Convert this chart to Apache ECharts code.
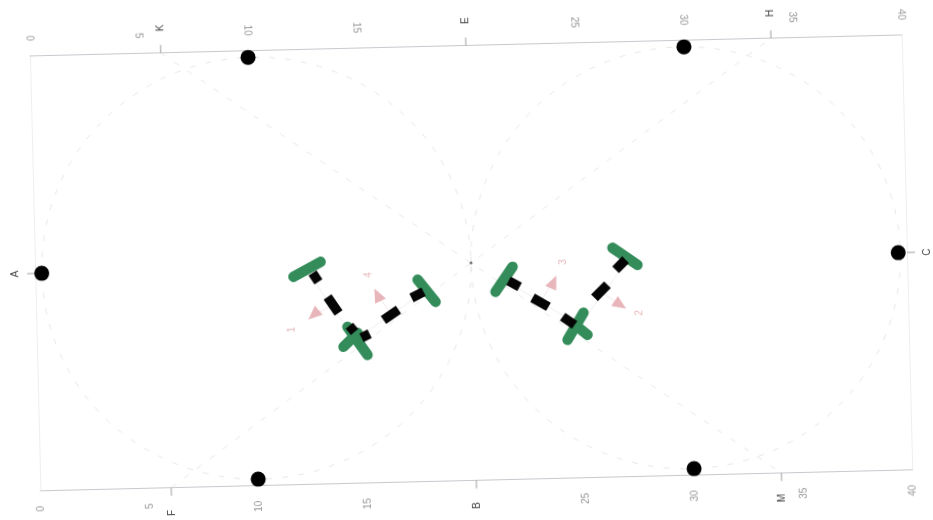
<!DOCTYPE html>
<html>
<head>
<meta charset="utf-8">
<style>
html,body{margin:0;padding:0;background:#fff;width:933px;height:520px;overflow:hidden}
#c{width:933px;height:520px;transform:rotate(-1.38deg);transform-origin:466.5px 260px;filter:blur(0.5px)}
</style>
<script src="https://cdn.jsdelivr.net/npm/echarts@6/dist/echarts.min.js"></script>
</head>
<body>
<div id="c"></div>
<script>
const xTicks = [0, 5, 10, 15, 20, 25, 30, 35, 40];
const hiddenTicks = [20];
const circles = [[10.15, 10], [29.85, 10]];
const circleRadius = [9.85, 9.7];
const crossLines = [[[6, 20], [20, 10], [34, 0]], [[6, 0], [20, 10], [34, 20]]];
const centerDot = [[20, 10]];
const dots = [[0.3, 10], [10, 19.7], [30, 19.7], [39.6, 10], [30, 0.3], [10, 0.3]];
const markers = [
  ['A', 0, 10, 'left'], ['C', 40, 10, 'right'], ['E', 20, 20, 'top'], ['B', 20, 0, 'bottom'],
  ['K', 6, 20, 'top'], ['H', 34, 20, 'top'], ['F', 6, 0, 'bottom'], ['M', 34, 0, 'bottom']
];
const armLines = [
  [[12.4, 9.9], [14.62, 6.6], [17.9, 8.8]],
  [[21.5, 9.2], [24.9, 7.0], [27.3, 10.1]]
];
const arrowLines = [
  [[13.6, 8.2], [12.72, 7.79]], [[16.3, 7.7], [15.67, 8.64]],
  [[23.1, 8.1], [23.76, 9.04]], [[25.9, 8.55], [26.8, 7.91]]
];
const greenBars = [
  [[14.26, 7.2], [15.15, 5.89]], [[14.06, 6.29], [14.72, 6.91]],
  [[11.84, 9.56], [13.1, 10.22]], [[17.53, 9.29], [18.33, 8.25]],
  [[25.1, 7.59], [24.34, 6.36]], [[24.81, 6.95], [25.26, 6.57]],
  [[21.09, 8.65], [21.9, 9.78]], [[26.5, 10.54], [27.63, 9.73]]
];
const blackBars = [
  [[12.72, 9.72], [12.98, 9.3]], [[13.38, 8.6], [13.87, 7.85]], [[14.35, 7.25], [14.58, 6.96]],
  [[14.89, 6.68], [15.27, 6.86]], [[15.92, 7.48], [16.62, 7.93]], [[17.23, 8.46], [17.79, 8.73]],
  [[21.7, 9.14], [22.2, 8.85]], [[22.78, 8.33], [23.5, 7.9]], [[24.14, 7.43], [24.68, 7.04]],
  [[25.62, 8.26], [26.23, 8.85]], [[26.62, 9.53], [27.09, 9.98]]
];
const arrowHeads = [[12.72, 7.79, 130], [15.67, 8.64, 25], [23.76, 9.04, -25], [26.8, 7.91, -125]];
const pinkLabels = [['1', 11.69, 7.13], ['4', 15.28, 9.57], ['3', 24.24, 9.95], ['2', 27.67, 7.52]];

const GREY = '#989898', FAINT = '#e4e4e4', DARK = '#444', PINK = '#e8b6ba';
const outward = { left: [-1, 0], right: [1, 0], top: [0, -1], bottom: [0, 1] };

function lineSeries(points, width, color, extra) {
  return Object.assign({
    type: 'line', data: points, showSymbol: false, symbol: 'none', silent: true, clip: false,
    lineStyle: { width: width, color: color }, animation: false
  }, extra || {});
}

const series = [];
series.push({
  type: 'custom', data: circles, silent: true, animation: false, clip: false, z: 1,
  renderItem: function (p, api) {
    const c = api.coord([api.value(0), api.value(1)]);
    const s = api.size(circleRadius);
    return { type: 'ellipse', shape: { cx: c[0], cy: c[1], rx: s[0], ry: s[1] },
      style: { fill: 'none', stroke: FAINT, lineWidth: 0.9, lineDash: [6, 10] } };
  }
});
crossLines.forEach(l => series.push(lineSeries(l, 0.9, FAINT, { z: 1, lineStyle: { width: 0.9, color: FAINT, type: [6, 10] } })));
armLines.forEach(l => series.push(lineSeries(l, 0.7, '#e6e6e6', { z: 2 })));
arrowLines.forEach(l => series.push(lineSeries(l, 0.7, '#ecdadb', { z: 2 })));
greenBars.forEach(b => series.push(lineSeries(b, 10.5, '#338c5a', { z: 4, lineStyle: { width: 10.5, color: '#338c5a', cap: 'round' } })));
blackBars.forEach(b => series.push(lineSeries(b, 9.5, '#050505', { z: 5 })));
series.push({
  type: 'scatter', data: arrowHeads.map(a => ({ value: [a[0], a[1]], symbolRotate: a[2] })),
  symbol: 'triangle', symbolSize: [12, 14], itemStyle: { color: PINK, opacity: 1 }, silent: true, animation: false, z: 3
});
series.push({
  type: 'scatter', data: dots, symbol: 'circle', symbolSize: 15,
  itemStyle: { color: '#000', opacity: 1 }, silent: true, animation: false, clip: false, z: 6
});
series.push({
  type: 'scatter', data: centerDot, symbol: 'circle', symbolSize: 3,
  itemStyle: { color: '#777', opacity: 1 }, silent: true, animation: false, z: 3
});
series.push({
  type: 'custom', data: pinkLabels.map(l => [l[1], l[2]]), silent: true, animation: false, z: 3,
  encode: { x: 0, y: 1 },
  renderItem: function (p, api) {
    const c = api.coord([api.value(0), api.value(1)]);
    return { type: 'text', x: c[0], y: c[1], rotation: Math.PI / 2,
      style: { text: pinkLabels[p.dataIndex][0], fill: PINK, fontSize: 10, fontFamily: 'Liberation Sans', align: 'center', verticalAlign: 'middle' } };
  }
});
series.push({
  type: 'custom', data: markers.map(m => [m[1], m[2]]), silent: true, animation: false, clip: false, z: 3,
  encode: { x: 0, y: 1 },
  renderItem: function (p, api) {
    const m = markers[p.dataIndex];
    const c = api.coord([api.value(0), api.value(1)]);
    const o = outward[m[3]];
    return { type: 'group', children: [
      { type: 'line', shape: { x1: c[0], y1: c[1], x2: c[0] + o[0] * 8, y2: c[1] + o[1] * 8 },
        style: { stroke: '#888', lineWidth: 0.8 } },
      { type: 'text', x: c[0] + o[0] * 20, y: c[1] + o[1] * 25, rotation: Math.PI / 2,
        style: { text: m[0], fill: DARK, fontSize: 10, fontFamily: 'Liberation Sans', align: 'center', verticalAlign: 'middle' } }
    ] };
  }
});

function xAxisFor(pos) {
  return {
    type: 'value', position: pos, min: xTicks[0], max: xTicks[xTicks.length - 1], interval: 5,
    axisLine: { show: true, onZero: false, lineStyle: { color: '#c2c2ca', width: 0.9 } },
    axisTick: { show: false }, splitLine: { show: false },
    axisLabel: { show: true, rotate: 90, margin: 15, fontSize: 10, color: GREY, fontFamily: 'Liberation Sans', hideOverlap: false,
      formatter: v => hiddenTicks.includes(v) ? '' : String(v) }
  };
}
function yAxisFor(pos) {
  return {
    type: 'value', position: pos, min: 0, max: 20,
    axisLine: { show: true, onZero: false, lineStyle: { color: '#ececec', width: 0.9 } },
    axisTick: { show: false }, splitLine: { show: false }, axisLabel: { show: false }
  };
}
const chart = echarts.init(document.getElementById('c'), null, { renderer: 'canvas' });
chart.setOption({
  animation: false,
  backgroundColor: 'transparent',
  grid: { left: 35, top: 45.6, width: 872, height: 435 },
  xAxis: [xAxisFor('bottom'), xAxisFor('top')],
  yAxis: [yAxisFor('left'), yAxisFor('right')],
  series: series
});
</script>
</body>
</html>
